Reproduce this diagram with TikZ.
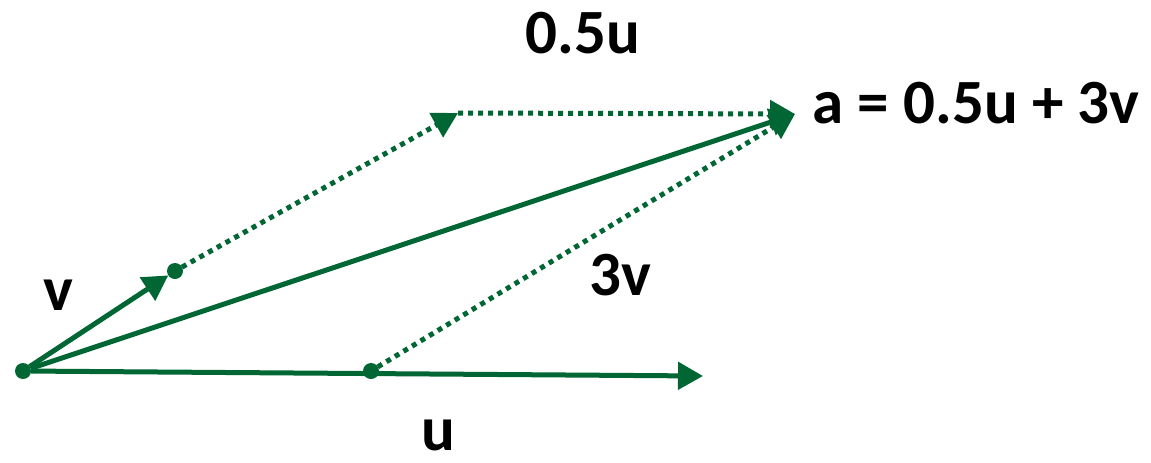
\documentclass[tikz,border=0pt]{standalone}
\usepackage{fontspec}
\setmainfont{Carlito}
\usepackage{tikz}
\usetikzlibrary{arrows.meta, positioning}
\usepackage{xcolor}
\definecolor{vgreen}{RGB}{0,102,51}
\tikzstyle{vec}     = [line width=2.5pt, color=vgreen, -{Triangle[length=12.5pt, width=13.5pt]}]
\tikzstyle{dotvec}  = [vec, dash pattern=on 2.5pt off 2.5pt]
\tikzstyle{point}   = [circle, fill=vgreen, minimum size=8pt, inner sep=0pt, outer sep=0pt]
\tikzstyle{lbl}     = [font=\fontsize{31.5}{36}\selectfont\bfseries, inner sep=0pt]

\begin{document}
\begin{tikzpicture}[x=0.5pt, y=-0.5pt]
        \useasboundingbox (0,0) rectangle (1151,462);

        % Punkte
        \node[point] (o) at (23,371) {};
        \node[point] (v) at (175,271) {};
        \node[point] (m) at (371,371) {};
        \coordinate (u) at (703,376);
        \coordinate (h) at (458,113);
        \coordinate (a) at (795,114);

        % Vektoren
        \draw[vec] (o) -- (v);
        \draw[vec] (o) -- (u);
        \draw[vec] (o) -- (a);

        % Zerlegung
        \draw[dotvec] (v) -- (h);
        \draw[dotvec] (h) -- (a);
        \draw[dotvec] (m) -- (a);

        % Beschriftung
        \node[lbl, anchor=base] (lv) at (58,310) {v};
        \node[lbl, anchor=base] (lu) at (438,450) {u};
        \node[lbl, anchor=base] (l3v) at (620,295) {3v};
        \node[lbl, anchor=base] (lhalf) at (583,53) {0.5u};
        \node[lbl, anchor=base west] (la) at (812,123) {a = 0.5u + 3v};
\end{tikzpicture}
\end{document}
